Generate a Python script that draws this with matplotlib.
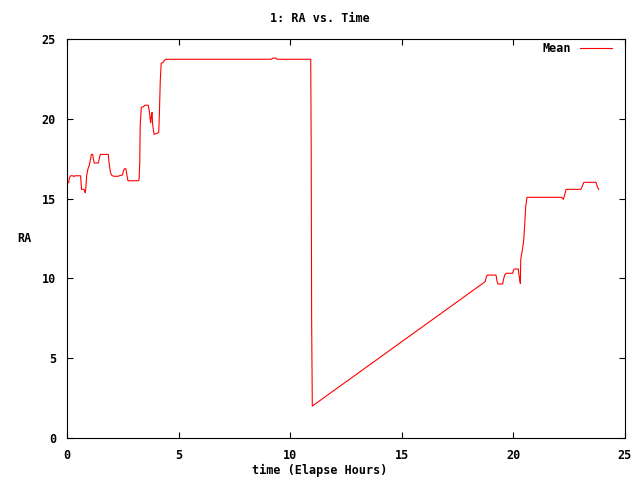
import matplotlib
matplotlib.use("Agg")
import matplotlib.pyplot as plt

# elapsed hours and mean RA
hours = [
    0.0, 0.08, 0.10, 0.16, 0.27, 0.30, 0.36, 0.61, 0.65, 0.76, 0.79, 0.82,
    0.85, 0.88, 0.94, 1.00, 1.06, 1.09, 1.15, 1.18, 1.22, 1.40, 1.45, 1.49,
    1.85, 1.88, 1.93, 1.97, 2.03, 2.11, 2.30, 2.34, 2.49, 2.52, 2.57, 2.64,
    2.67, 2.73, 3.20, 3.23, 3.26, 3.28, 3.33, 3.42, 3.49, 3.64, 3.69, 3.72,
    3.75, 3.78, 3.81, 3.84, 3.90, 4.02, 4.11, 4.14, 4.18, 4.22, 4.30, 4.36,
    4.42, 9.15, 9.22, 9.35, 9.42, 10.92, 10.94, 10.96, 10.99, 18.73, 18.80,
    18.85, 19.22, 19.27, 19.31, 19.52, 19.55, 19.61, 19.67, 19.97, 20.00,
    20.04, 20.22, 20.25, 20.28, 20.31, 20.33, 20.40, 20.46, 20.51, 20.55,
    20.61, 22.16, 22.24, 22.31, 22.36, 23.03, 23.09, 23.16, 23.70, 23.76,
    23.82,
]
ra = [
    16.0, 16.0, 16.27, 16.43, 16.43, 16.38, 16.43, 16.43, 15.58, 15.58, 15.47,
    15.37, 15.75, 16.43, 16.87, 17.1, 17.52, 17.77, 17.77, 17.48, 17.23, 17.23,
    17.52, 17.77, 17.77, 17.3, 16.79, 16.54, 16.43, 16.4, 16.4, 16.43, 16.48,
    16.7, 16.87, 16.87, 16.6, 16.12, 16.12, 16.2, 17.31, 19.55, 20.72, 20.75,
    20.85, 20.85, 20.45, 20.03, 19.76, 20.2, 20.4, 19.6, 19.03, 19.08, 19.15,
    20.35, 22.43, 23.48, 23.52, 23.65, 23.73, 23.73, 23.8, 23.8, 23.73, 23.73,
    18.3, 7.44, 2.0, 9.79, 10.15, 10.21, 10.21, 9.8, 9.65, 9.65, 9.9, 10.21,
    10.32, 10.32, 10.5, 10.59, 10.59, 10.2, 10.0, 9.69, 11.2, 11.78, 12.36,
    13.45, 14.49, 15.08, 15.08, 14.95, 15.3, 15.58, 15.58, 15.8, 16.02, 16.02,
    15.75, 15.58,
]
x_ticks = [0, 5, 10, 15, 20, 25]
y_ticks = [0, 5, 10, 15, 20, 25]

font = {"family": "DejaVu Sans Mono", "weight": "bold", "size": 8.5}
plt.rcParams["font.family"] = "DejaVu Sans Mono"
plt.rcParams["font.weight"] = "bold"
plt.rcParams["font.size"] = 8.5

fig = plt.figure(figsize=(6.4, 4.8), dpi=100)
ax = fig.add_axes([67 / 640, 42 / 480, 558 / 640, 399 / 480])

ax.plot(hours, ra, color="#ff0000", linewidth=0.8, label="Mean")

ax.set_xlim(0, 25)
ax.set_ylim(0, 25)
ax.set_xticks(x_ticks)
ax.set_yticks(y_ticks)
ax.tick_params(direction="in", top=True, right=True, length=4, width=0.8,
               labelsize=8.5, pad=8)
for s in ax.spines.values():
    s.set_linewidth(0.8)

fig.text(0.5, 1 - 18 / 480, "1: RA vs. Time", ha="center", va="center",
         fontdict=font)
fig.text(0.5, 1 - 470 / 480, "time (Elapse Hours)", ha="center",
         va="center", fontdict=font)
fig.text(24 / 640, 1 - 239 / 480, "RA", ha="center", va="center",
         fontdict=font)

leg = ax.legend(loc="upper right", bbox_to_anchor=(0.985, 1.005),
                frameon=False, markerfirst=False, handlelength=2.7,
                borderaxespad=0, handletextpad=0.75)

fig.savefig("out.png", dpi=100)
